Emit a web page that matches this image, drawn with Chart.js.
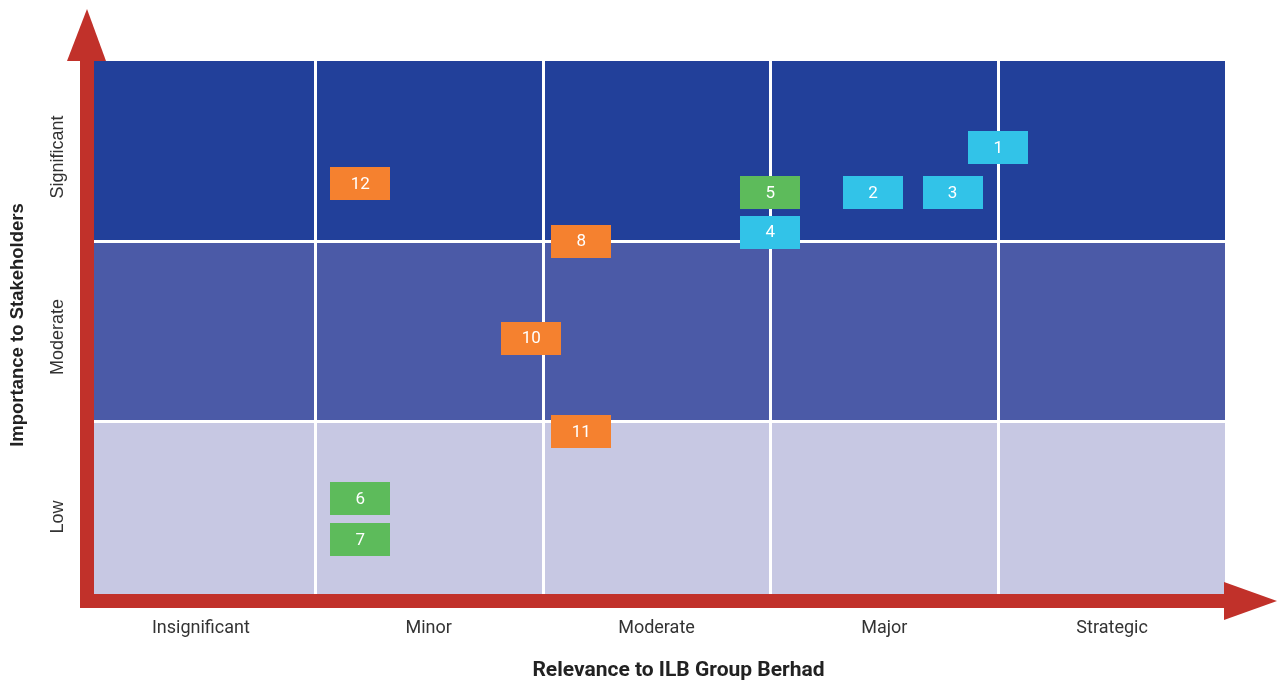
<!DOCTYPE html>
<html>
<head>
<meta charset="utf-8">
<title>Materiality Matrix</title>
<script src="https://cdn.jsdelivr.net/npm/chart.js@4/dist/chart.umd.min.js"></script>
<style>
  html, body { margin: 0; padding: 0; background: #ffffff; }
  #wrap { width: 1277px; height: 682px; position: relative; }
</style>
</head>
<body>
<div id="wrap"><canvas id="chart" width="1277" height="682"></canvas></div>
<script>
// Axis categories
const relevanceLevels = ['Insignificant', 'Minor', 'Moderate', 'Major', 'Strategic'];
const importanceLevels = ['Low', 'Moderate', 'Significant'];

// Material matters: number, relevance (x) and importance (y) scores, group
const matterIds = [1, 2, 3, 4, 5, 6, 7, 8, 10, 11, 12];
const relevanceScores = [4.0, 3.45, 3.8, 3.0, 3.0, 1.2, 1.2, 2.17, 1.95, 2.17, 1.2];
const importanceScores = [2.52, 2.27, 2.27, 2.05, 2.27, 0.57, 0.34, 2.0, 1.46, 0.94, 2.32];
const matterGroups = [0, 0, 0, 0, 1, 1, 1, 2, 2, 2, 2];

const groupColors = ['#32C3E8', '#5DBB5B', '#F5812F'];
const rowColors = ['#C7C8E3', '#4B5AA7', '#22409A'];
const arrowColor = '#C1312A';

// Rectangular marker used as point style
function makeBox(color) {
  const c = document.createElement('canvas');
  c.width = 60; c.height = 33;
  const g = c.getContext('2d');
  g.fillStyle = color;
  g.fillRect(0, 0, 60, 33);
  return c;
}

const datasets = groupColors.map((color, gi) => {
  const pts = [];
  matterIds.forEach((id, i) => {
    if (matterGroups[i] === gi) pts.push({ x: relevanceScores[i], y: importanceScores[i], id: id });
  });
  return {
    data: pts,
    pointStyle: makeBox(color),
    pointRadius: 10,
    backgroundColor: color,
    borderWidth: 0
  };
});

const matrixPlugin = {
  id: 'matrix',
  beforeDatasetsDraw(chart) {
    const ctx = chart.ctx;
    const xs = chart.scales.x, ys = chart.scales.y;
    const left = xs.getPixelForValue(0), right = xs.getPixelForValue(5) - 1;
    ctx.save();
    // row bands
    importanceLevels.forEach((_, r) => {
      const top = ys.getPixelForValue(r + 1), bottom = ys.getPixelForValue(r);
      ctx.fillStyle = rowColors[r];
      ctx.fillRect(left, top, right - left, bottom - top);
    });
    // white separators
    ctx.strokeStyle = '#ffffff';
    ctx.lineWidth = 3;
    for (let i = 1; i < relevanceLevels.length; i++) {
      const x = Math.round(xs.getPixelForValue(i)) + 0.5;
      ctx.beginPath();
      ctx.moveTo(x, ys.getPixelForValue(3));
      ctx.lineTo(x, ys.getPixelForValue(0));
      ctx.stroke();
    }
    for (let j = 1; j < importanceLevels.length; j++) {
      const y = Math.round(ys.getPixelForValue(j)) + 0.5;
      ctx.beginPath();
      ctx.moveTo(left, y);
      ctx.lineTo(right, y);
      ctx.stroke();
    }
    // axis arrows
    const ox = xs.getPixelForValue(0), oy = ys.getPixelForValue(0);
    const topY = ys.getPixelForValue(3), endX = xs.getPixelForValue(5) - 2;
    const half = 7;
    ctx.fillStyle = arrowColor;
    ctx.fillRect(ox - half, topY, half * 2, oy + half - topY);
    ctx.fillRect(ox - half, oy - half, endX - ox + half, half * 2);
    ctx.beginPath();
    ctx.moveTo(ox - 20, topY);
    ctx.lineTo(ox, topY - 52);
    ctx.lineTo(ox + 19, topY);
    ctx.closePath();
    ctx.fill();
    ctx.beginPath();
    ctx.moveTo(endX, oy - 19);
    ctx.lineTo(endX + 53, oy);
    ctx.lineTo(endX, oy + 19);
    ctx.closePath();
    ctx.fill();
    ctx.restore();
  },
  afterDatasetsDraw(chart) {
    const ctx = chart.ctx;
    ctx.save();
    ctx.fillStyle = '#ffffff';
    ctx.font = '17px Roboto';
    ctx.textAlign = 'center';
    ctx.textBaseline = 'middle';
    chart.data.datasets.forEach((ds, di) => {
      const meta = chart.getDatasetMeta(di);
      meta.data.forEach((el, i) => {
        ctx.fillText(String(ds.data[i].id), el.x, el.y + 1);
      });
    });
    ctx.restore();
  },
  afterDraw(chart) {
    const ctx = chart.ctx;
    const xs = chart.scales.x, ys = chart.scales.y;
    const oy = ys.getPixelForValue(0);
    ctx.save();
    ctx.fillStyle = '#333333';
    ctx.textAlign = 'center';
    // column labels
    ctx.font = '18px Roboto';
    ctx.textBaseline = 'alphabetic';
    relevanceLevels.forEach((lab, i) => {
      ctx.fillText(lab, xs.getPixelForValue(i + 0.5), oy + 32);
    });
    // row labels (rotated)
    ctx.font = '18px "Liberation Sans", Arial, sans-serif';
    ctx.textBaseline = 'middle';
    importanceLevels.forEach((lab, j) => {
      ctx.save();
      ctx.translate(58, ys.getPixelForValue(j + 0.5) + 6);
      ctx.rotate(-Math.PI / 2);
      ctx.fillText(lab, 0, 0);
      ctx.restore();
    });
    // axis titles
    ctx.fillStyle = '#222222';
    ctx.font = 'bold 21px Roboto';
    ctx.textBaseline = 'alphabetic';
    ctx.fillText('Relevance to ILB Group Berhad', (xs.getPixelForValue(0) - 7 + 1277) / 2, oy + 75);
    ctx.save();
    ctx.font = 'bold 18.5px "Liberation Sans", Arial, sans-serif';
    ctx.textBaseline = 'middle';
    ctx.translate(18, (ys.getPixelForValue(3) + oy) / 2 - 6);
    ctx.rotate(-Math.PI / 2);
    ctx.fillText('Importance to Stakeholders', 0, 0);
    ctx.restore();
    ctx.restore();
  }
};

new Chart(document.getElementById('chart'), {
  type: 'scatter',
  data: { datasets: datasets },
  options: {
    responsive: false,
    animation: false,
    events: [],
    layout: { padding: { left: 87, right: 51, top: 61, bottom: 81 } },
    scales: {
      x: { type: 'linear', min: 0, max: 5, display: false },
      y: { type: 'linear', min: 0, max: 3, display: false }
    },
    plugins: {
      legend: { display: false },
      tooltip: { enabled: false }
    }
  },
  plugins: [matrixPlugin]
});
</script>
</body>
</html>
